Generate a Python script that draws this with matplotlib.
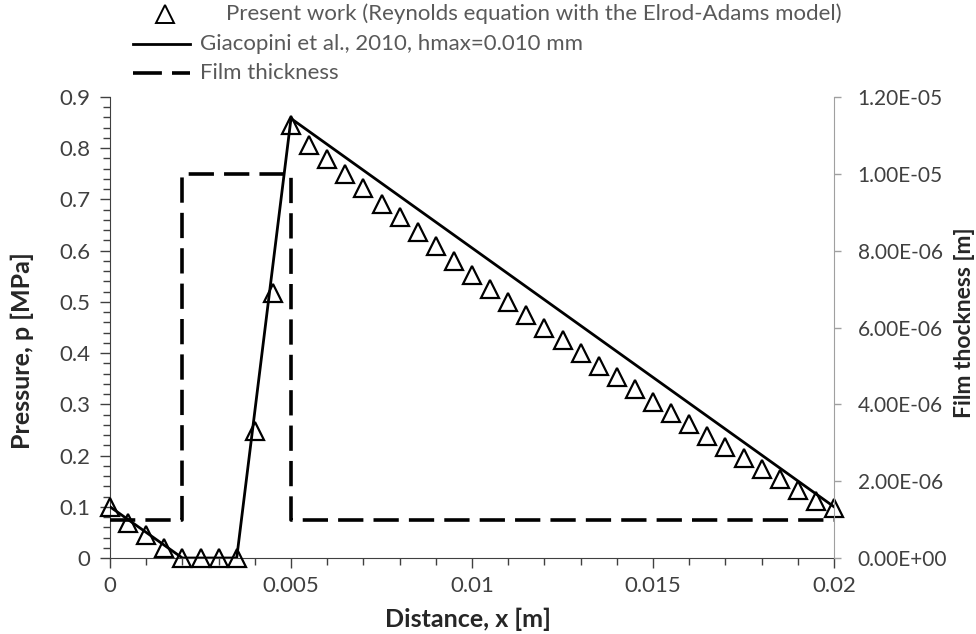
import numpy as np
import matplotlib.pyplot as plt
from matplotlib.lines import Line2D
from matplotlib.ticker import MultipleLocator, FuncFormatter

plt.rcParams['font.family'] = ['Lato', 'DejaVu Sans']

# present work (Elrod-Adams), one point every 0.0005 m
x_present = np.arange(41) * 0.0005
p_present = [0.100, 0.068, 0.045, 0.019, 0.0, 0.0, 0.0, 0.0, 0.248, 0.517,
             0.845, 0.806, 0.778, 0.750, 0.722, 0.692, 0.665, 0.637, 0.609, 0.580,
             0.553, 0.525, 0.500, 0.474, 0.450, 0.426, 0.401, 0.375, 0.353, 0.329,
             0.305, 0.283, 0.261, 0.239, 0.217, 0.195, 0.173, 0.154, 0.133, 0.112,
             0.097]

# Giacopini et al. 2010
x_giac = [0.0, 0.002, 0.0035, 0.005, 0.02]
p_giac = [0.100, 0.0, 0.0, 0.858, 0.100]

# film thickness
x_film = [0.0, 0.002, 0.002, 0.005, 0.005, 0.02]
h_film = [1e-6, 1e-6, 1e-5, 1e-5, 1e-6, 1e-6]

labels = ['Present work (Reynolds equation with the Elrod-Adams model)',
          'Giacopini et al., 2010, hmax=0.010 mm',
          'Film thickness']

W, H = 976, 634
fig = plt.figure(figsize=(W/100, H/100), dpi=100)
ax = fig.add_axes([110/W, 1-558/H, 724/W, 461/H])
ax2 = ax.twinx()

ax.plot(x_present, p_present, ls='none', marker='^', ms=13,
        mfc='none', mec='black', mew=1.6, clip_on=False, zorder=5)
ax.plot(x_giac, p_giac, color='black', lw=2.0, zorder=4)
ax2.plot(x_film, h_film, color='black', lw=2.6, dashes=(7.0, 2.8))

ax.set_xlim(0, 0.02)
ax.set_ylim(0, 0.9)
ax2.set_ylim(0, 1.2e-5)

ax.xaxis.set_major_locator(MultipleLocator(0.005))
ax.xaxis.set_minor_locator(MultipleLocator(0.001))
ax.yaxis.set_major_locator(MultipleLocator(0.1))
ax.yaxis.set_minor_locator(MultipleLocator(0.02))
ax2.yaxis.set_major_locator(MultipleLocator(2e-6))

ax.xaxis.set_major_formatter(FuncFormatter(lambda v, _: '%g' % round(v, 4)))
ax.yaxis.set_major_formatter(FuncFormatter(lambda v, _: '0' if abs(v) < 1e-9 else '%.1f' % v))
ax2.yaxis.set_major_formatter(FuncFormatter(lambda v, _: '{:.2E}'.format(v)))

tc = '#404040'
ax.tick_params(axis='both', which='major', direction='out', length=7, width=1,
               color='#404040', labelsize=16, labelcolor=tc, pad=6)
ax.tick_params(axis='y', which='major', pad=7)
ax.tick_params(axis='both', which='minor', direction='out', length=5, width=1,
               color='#404040')
ax2.tick_params(axis='y', which='major', direction='out', length=5, width=1,
                color='#a0a0a0', labelsize=15, labelcolor=tc, pad=12)

ax.spines['top'].set_visible(False)
ax2.spines['top'].set_visible(False)
ax.spines['left'].set_color('#404040')
ax.spines['bottom'].set_color('#404040')
ax2.spines['left'].set_visible(False)
ax2.spines['bottom'].set_visible(False)
ax2.spines['right'].set_color('#a0a0a0')
ax.spines['right'].set_visible(False)

lab = dict(fontsize=18, fontweight='bold', color='#262626')
ax.set_xlabel('Distance, x [m]', **lab)
ax.set_ylabel('Pressure, p [MPa]', **lab)
ax2.set_ylabel('Film thockness [m]', fontsize=16.5, fontweight='bold', color='#262626')
ax.xaxis.set_label_coords((468 - 110) / 724, (558 - 608) / 461)
ax.yaxis.set_label_coords((34 - 110) / 724, (558 - 351) / 461)
ax2.yaxis.set_label_coords((954 - 110) / 724, (558 - 323) / 461)

# legend above the plot, drawn by hand (Excel style)
def fx(px):
    return px / W

def fy(py):
    return 1 - py / H

rows = [14, 44, 73]
fig.add_artist(Line2D([fx(165)], [fy(rows[0])], transform=fig.transFigure, ls='none',
                      marker='^', ms=13, mfc='none', mec='black', mew=1.4))
fig.add_artist(Line2D([fx(133), fx(190)], [fy(rows[1])] * 2, transform=fig.transFigure,
                      color='black', lw=2.0))
fig.add_artist(Line2D([fx(133), fx(190)], [fy(rows[2])] * 2, transform=fig.transFigure,
                      color='black', lw=2.6, dashes=(8.0, 2.8)))
text_x = [226, 200, 200]
for lbl, tx, ty in zip(labels, text_x, rows):
    fig.text(fx(tx), fy(ty), lbl, fontsize=16, color='#595959', ha='left', va='center')

fig.savefig('out.png', dpi=100)
